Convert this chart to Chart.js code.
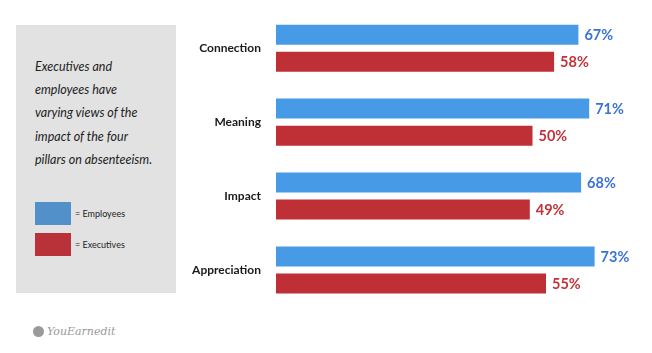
<!DOCTYPE html>
<html>
<head>
<meta charset="utf-8">
<script src="https://cdn.jsdelivr.net/npm/chart.js@4"></script>
<style>
  html, body { margin: 0; padding: 0; background: #fff; }
  body { width: 652px; height: 353px; position: relative; overflow: hidden; font-family: Lato, "Open Sans", sans-serif; }
  #note {
    position: absolute; left: 16px; top: 25px; width: 160px; height: 268px;
    background: #e2e2e2;
  }
  #note p {
    position: absolute; left: 19px; top: 30px; margin: 0; width: 140px;
    font-style: italic; font-size: 12.5px; line-height: 23.2px; color: #222; white-space: nowrap;
  }
  #legend { position: absolute; left: 19px; top: 172.5px; }
  .leg { display: flex; align-items: center; height: 31px; font-size: 9px; color: #222; }
  .leg span.sw { display: inline-block; width: 36px; height: 23px; margin-right: 4px; }
  #logo {
    position: absolute; left: 33px; top: 325px; display: flex; align-items: center;
    color: #9a9a9a; font-family: "DejaVu Serif", serif; font-style: italic; font-size: 11px;
  }
  #logo i { display: inline-block; width: 11px; height: 11px; border-radius: 50%; background: #9a9a9a; margin-right: 3px; }
  /* shifted up: chart.js keeps ~22px above the plot area here */
  #chart { position: absolute; left: 0; top: -11px; }
</style>
</head>
<body>
<div id="note">
  <p>Executives and<br>employees have<br>varying views of the<br>impact of the four<br>pillars on absenteeism.</p>
  <div id="legend"></div>
</div>
<div id="logo"><i></i>YouEarnedit</div>
<canvas id="chart" width="652" height="364"></canvas>
<script>
// data
const categories = ['Connection', 'Meaning', 'Impact', 'Appreciation'];
const employees = [67, 71, 68, 73];
const executives = [58, 50, 49, 55];
const seriesNames = ['Employees', 'Executives'];

const barColors = ['#479be6', '#bf2f36'];
const labelColors = ['#3b72d5', '#c3323a'];
const legendColors = ['#5190c9', '#b9323a'];

// bars don't start at zero in the original graphic
const AXIS_MIN = -45;
const AXIS_MAX = 90;

// legend inside the grey box
const legendEl = document.getElementById('legend');
seriesNames.forEach((name, i) => {
    const row = document.createElement('div');
    row.className = 'leg';
    row.innerHTML = `<span class="sw" style="background:${legendColors[i]}"></span>= ${name}`;
    legendEl.appendChild(row);
});

const valueLabels = {
    id: 'valueLabels',
    afterDatasetsDraw(chart) {
        const ctx = chart.ctx;
        ctx.save();
        ctx.font = 'bold 14.5px Lato, sans-serif';
        ctx.textBaseline = 'middle';
        ctx.textAlign = 'left';
        chart.data.datasets.forEach((ds, di) => {
            const meta = chart.getDatasetMeta(di);
            ctx.fillStyle = labelColors[di];
            meta.data.forEach((bar, i) => {
                ctx.fillText(ds.data[i] + '%', bar.x + 6, bar.y + 1);
            });
        });
        ctx.restore();
    }
};

new Chart(document.getElementById('chart').getContext('2d'), {
    type: 'bar',
    plugins: [valueLabels],
    data: {
        labels: categories,
        datasets: [
            { label: seriesNames[0], data: employees, backgroundColor: barColors[0], base: AXIS_MIN },
            { label: seriesNames[1], data: executives, backgroundColor: barColors[1], base: AXIS_MIN }
        ]
    },
    options: {
        indexAxis: 'y',
        responsive: false,
        animation: false,
        categoryPercentage: 0.732,
        barPercentage: 0.74,
        layout: { padding: { top: 0.6, bottom: 46, left: 0, right: 11.5 } },
        plugins: {
            legend: { display: false },
            tooltip: { enabled: false }
        },
        scales: {
            x: { display: false, min: AXIS_MIN, max: AXIS_MAX },
            y: {
                afterFit: (scale) => { scale.width = 276; },
                grid: { display: false, drawTicks: false },
                border: { display: false },
                ticks: {
                    padding: 15,
                    color: '#1a1a1a',
                    font: { family: 'Lato', weight: 'bold', size: 12 }
                }
            }
        }
    }
});
</script>
</body>
</html>
